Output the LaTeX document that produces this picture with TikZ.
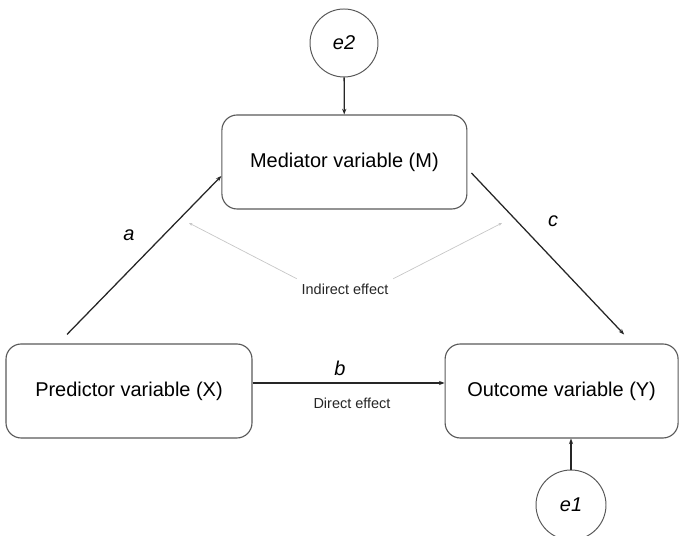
\documentclass[tikz,border=0pt]{standalone}
\usepackage{fontspec}
\setmainfont{Liberation Sans}
\usetikzlibrary{arrows.meta}

\begin{document}
\begin{tikzpicture}[
    varbox/.style={draw=black!65, line width=0.8pt, rounded corners=0.38cm, minimum height=2.35cm, font=\fontsize{14.2}{17}\selectfont},
    errcirc/.style={draw=black!65, line width=0.7pt, circle, inner sep=0pt, font=\fontsize{14.2}{17}\selectfont\itshape},
    path/.style={-{Stealth[length=4pt,width=3pt]}, line width=0.9pt, black!85},
    faint/.style={-{Stealth[length=2.5pt,width=2pt]}, line width=0.5pt, black!22},
    lbl/.style={font=\fontsize{14.2}{17}\selectfont\itshape},
    note/.style={font=\fontsize{10.3}{12}\selectfont, black!85}
]
    \useasboundingbox (0,0) rectangle (17,13.4);

    % Variables
    \node[varbox, minimum width=6.125cm] (M) at (8.61,9.35) {Mediator variable (M)};
    \node[varbox, minimum width=6.15cm] (X) at (3.225,3.625) {Predictor variable (X)};
    \node[varbox, minimum width=5.825cm] (Y) at (14.04,3.625) {Outcome variable (Y)};

    % Error terms
    \node[errcirc, minimum size=1.7cm] (e2) at (8.6,12.325) {e2};
    \node[errcirc, minimum size=1.75cm] (e1) at (14.275,0.775) {e1};

    % Paths
    \draw[path] ([xshift=-1.55cm,yshift=0.225cm]X.north) -- ([yshift=-0.35cm]M.west);
    \draw[path] ([xshift=0.1cm,yshift=-0.275cm]M.east) -- ([xshift=1.5625cm,yshift=0.225cm]Y.north);
    \draw[path] ([yshift=0.2cm]X.east) -- ([yshift=0.2cm]Y.west);
    \draw[path] (e2) -- (M);
    \draw[path] (e1) -- (e1 |- Y.south);

    % Path labels
    \node[lbl] (la) at (3.225,7.525) {a};
    \node[lbl] (lb) at (8.5,4.2) {b};
    \node[lbl] (lc) at (13.825,7.875) {c};

    % Effects
    \node[note] (dir) at (8.8,3.325) {Direct effect};
    \node[note] (ind) at (8.625,6.175) {Indirect effect};
    \coordinate (ga) at (4.725,7.825);
    \coordinate (gc) at (12.55,7.825);
    \draw[faint] (ind.north west) -- (ga);
    \draw[faint] (ind.north east) -- (gc);
\end{tikzpicture}
\end{document}
